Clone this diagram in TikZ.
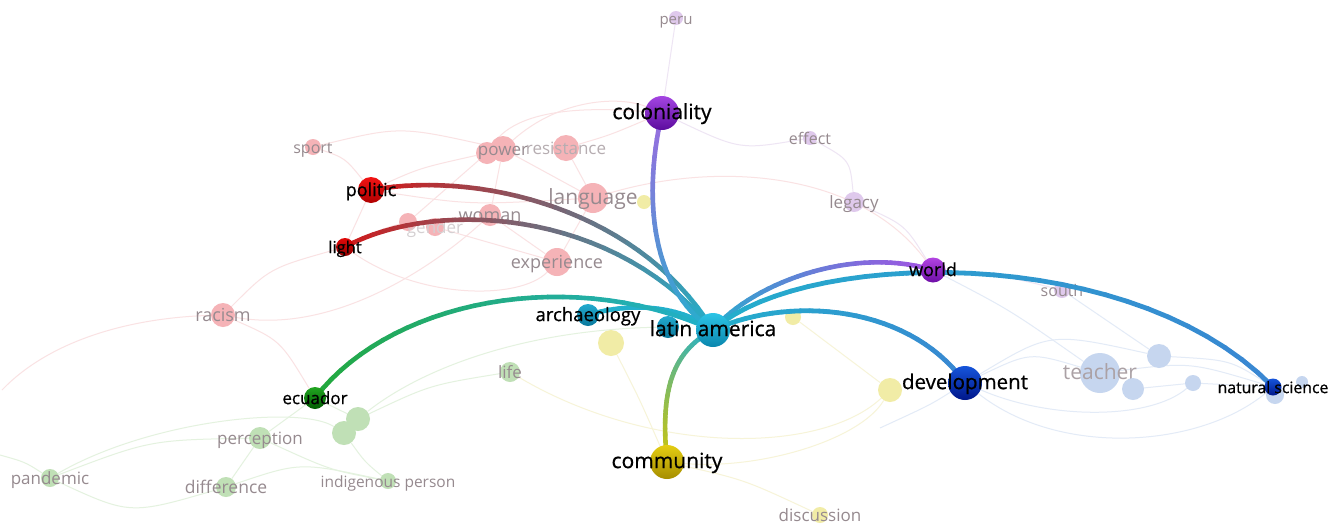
\documentclass[tikz,border=0pt]{standalone}
\usepackage{fontspec}
\setmainfont{Open Sans}
\newfontfamily\heavyfont{Open Sans}[FakeBold=0.7]
\pgfdeclarelayer{faint}
\pgfdeclarelayer{strongedge}
\pgfdeclarelayer{top}
\pgfsetlayers{faint,main,strongedge,top}
% faded node fills
\definecolor{pk}{HTML}{F5B3B7}
\definecolor{yl}{HTML}{F1ECA6}
\definecolor{gr}{HTML}{C0E0B6}
\definecolor{bl}{HTML}{C6D6EF}
\definecolor{pu}{HTML}{DFC9EC}
\definecolor{fadetxt}{HTML}{968A8F}
% faint edge colours
\definecolor{fpkc}{HTML}{FAE2E3}
\definecolor{fgrc}{HTML}{E4F2DF}
\definecolor{fblc}{HTML}{E3EBF7}
\definecolor{fylc}{HTML}{F7F4D8}
\definecolor{fpuc}{HTML}{EEE5F4}
% strong node colours
\definecolor{laTop}{HTML}{2CC4E6}\definecolor{laBot}{HTML}{0A86AD}
\definecolor{colTop}{HTML}{A445E2}\definecolor{colBot}{HTML}{5C0C9E}
\definecolor{comTop}{HTML}{E4CD12}\definecolor{comBot}{HTML}{A68E00}
\definecolor{devTop}{HTML}{1655DA}\definecolor{devBot}{HTML}{00168A}
\definecolor{wTop}{HTML}{B244E2}\definecolor{wBot}{HTML}{6E0EA6}
\definecolor{polTop}{HTML}{F21414}\definecolor{polBot}{HTML}{B00000}
\definecolor{liTop}{HTML}{E00808}\definecolor{liBot}{HTML}{8E0000}
\definecolor{ecTop}{HTML}{22A522}\definecolor{ecBot}{HTML}{005C00}
\definecolor{arTop}{HTML}{22AACE}\definecolor{arBot}{HTML}{0A789C}
% strong edge colours
\definecolor{eTeal}{HTML}{22B0CC}
\definecolor{eRed}{HTML}{D41616}
\definecolor{eGreen}{HTML}{22A838}
\definecolor{eYellow}{HTML}{CCC40C}
\definecolor{ePurple}{HTML}{9C6CE0}
\definecolor{eWorld}{HTML}{A452E2}
\definecolor{eBlue}{HTML}{3A86D2}

\newcommand\gradedge[7]{%
  \foreach \k [evaluate=\k as \tpos using \k/30] in {0,...,30}{%
    \path (#1.center) .. controls #2 and #3 .. (#4.center) coordinate[pos=\tpos] (gp\k);}%
  \foreach \k [evaluate=\k as \kn using int(\k+1), evaluate=\k as \mx using int(round(100-100*(\k+0.5)/30))] in {0,...,29}{%
    \draw[line width=#7, line cap=round, color=#5!\mx!#6] (gp\k) -- (gp\kn);}%
}

\begin{document}
\begin{tikzpicture}[x=1pt,y=-1pt,
  bub/.style={circle,inner sep=0pt,minimum size=#1},
  fb/.style={fill=#1},
  sb/.style 2 args={top color=#1,bottom color=#2},
  flab/.style={inner sep=0pt,yshift=-4pt,text=fadetxt,font=\fontsize{#1}{#1}\selectfont,text height=0.72em,text depth=0.2em},
  slab/.style={inner sep=0pt,yshift=-3.5pt,text=black,font=\heavyfont\fontsize{#1}{#1}\selectfont,text height=0.72em,text depth=0.2em},
  fpk/.style={draw=fpkc,line width=1pt},
  fgr/.style={draw=fgrc,line width=1pt},
  fbl/.style={draw=fblc,line width=1pt},
  fyl/.style={draw=fylc,line width=1pt},
  fpu/.style={draw=fpuc,line width=1pt},
]
\useasboundingbox (0,0) rectangle (1331,528);

% ---------- faded nodes (main layer) ----------
% red cluster
\node[bub=16pt,fb=pk,label={[flab=16]center:sport}] (sport) at (313,147) {};
\node[bub=22pt,fb=pk] (pw2) at (487,153) {};
\node[bub=26pt,fb=pk,label={[flab=17]center:power}] (power) at (503,149) {};
\node[bub=26pt,fb=pk,label={[flab=17,text=fadetxt!70]center:resistance}] (resistance) at (566,148) {};
\node[bub=30pt,fb=pk,label={[flab=21]center:language}] (language) at (593,198) {};
\node[bub=22pt,fb=pk,label={[flab=18]center:woman}] (woman) at (490,215) {};
\node[bub=18pt,fb=pk] (g2) at (408,222) {};
\node[bub=18pt,fb=pk,label={[flab=17,text=fadetxt!40]center:gender}] (gender) at (435,227) {};
\node[bub=28pt,fb=pk,label={[flab=18]center:experience}] (experience) at (557,262) {};
\node[bub=24pt,fb=pk,label={[flab=18]center:racism}] (racism) at (223,315) {};
% yellow cluster
\node[bub=14pt,fb=yl] (y1) at (644,202) {};
\node[bub=26pt,fb=yl] (y2) at (611,343) {};
\node[bub=16pt,fb=yl] (y3) at (793,317) {};
\node[bub=24pt,fb=yl] (y4) at (890,390) {};
\node[bub=16pt,fb=yl,label={[flab=17]center:discussion}] (discussion) at (820,515) {};
% green cluster
\node[bub=20pt,fb=gr,label={[flab=17]center:life}] (life) at (510,372) {};
\node[bub=22pt,fb=gr,label={[flab=17]center:perception}] (perception) at (260,438) {};
\node[bub=24pt,fb=gr] (gc1) at (358,419) {};
\node[bub=24pt,fb=gr] (gc2) at (344,433) {};
\node[bub=18pt,fb=gr,label={[flab=17]center:pandemic}] (pandemic) at (50,478) {};
\node[bub=20pt,fb=gr,label={[flab=17.5]center:difference}] (difference) at (226,487) {};
\node[bub=16pt,fb=gr,label={[flab=15.5]center:indigenous person}] (indig) at (388,481) {};
% blue cluster
\node[bub=40pt,fb=bl,label={[flab=21,text=fadetxt!80]center:teacher}] (teacher) at (1100,373) {};
\node[bub=24pt,fb=bl] (b1) at (1159,356) {};
\node[bub=22pt,fb=bl] (b2) at (1133,389) {};
\node[bub=16pt,fb=bl] (b3) at (1193,383) {};
\node[bub=12pt,fb=bl] (b4) at (1302,382) {};
\node[bub=18pt,fb=bl] (b5) at (1275,395) {};
% purple cluster
\node[bub=14pt,fb=pu,label={[flab=15]center:peru}] (peru) at (676,18) {};
\node[bub=14pt,fb=pu,label={[flab=16]center:effect}] (effect) at (810,138) {};
\node[bub=20pt,fb=pu,label={[flab=17]center:legacy}] (legacy) at (854,202) {};
\node[bub=16pt,fb=pu,label={[flab=16]center:south}] (south) at (1062,290) {};

% ---------- strong nodes (top layer) ----------
\begin{pgfonlayer}{top}
\node[bub=22pt,sb={arTop}{arBot}] (sc) at (668,327) {};
\node[bub=22pt,sb={arTop}{arBot},label={[slab=18.5]center:archaeology}] (archaeology) at (588,315) {};
\node[bub=34pt,sb={laTop}{laBot},label={[slab=21]center:latin america}] (la) at (713,330) {};
\node[bub=34pt,sb={colTop}{colBot},label={[slab=21]center:coloniality}] (coloniality) at (662,113) {};
\node[bub=34pt,sb={comTop}{comBot},label={[slab=21]center:community}] (community) at (667,462) {};
\node[bub=34pt,sb={devTop}{devBot},label={[slab=20.5]center:development}] (development) at (965,383) {};
\node[bub=25pt,sb={wTop}{wBot},label={[slab=18]center:world}] (world) at (933,270) {};
\node[bub=26pt,sb={polTop}{polBot},label={[slab=18]center:politic}] (politic) at (371,190) {};
\node[bub=18pt,sb={liTop}{liBot},label={[slab=16.5]center:light}] (light) at (345,247) {};
\node[bub=22pt,sb={ecTop}{ecBot},label={[slab=17]center:ecuador}] (ecuador) at (315,398) {};
\node[bub=17pt,sb={devTop}{devBot},label={[slab=15.8]center:natural science}] (natsci) at (1273,387) {};
\end{pgfonlayer}

% ---------- faint connectors ----------
\begin{pgfonlayer}{faint}
\fill[white] (0,0) rectangle (1331,528);
\coordinate (le1) at (2,390);
\coordinate (le2) at (0,455);
\coordinate (be1) at (880,428);
% red
\draw[fpk] (sport) .. controls (345,158) .. (politic);
\draw[fpk] (sport) .. controls (400,126) .. (power);
\draw[fpk] (politic) .. controls (420,168) .. (pw2);
\draw[fpk] (power) .. controls (560,98) and (620,96) .. (coloniality);
\draw[fpk] (pw2) .. controls (520,105) and (600,108) .. (coloniality);
\draw[fpk] (politic) .. controls (470,205) .. (language);
\draw[fpk] (light) -- (politic);
\draw[fpk] (light) .. controls (385,228) .. (g2);
\draw[fpk] (racism) .. controls (270,268) .. (light);
\draw[fpk] (racism) .. controls (120,318) and (45,345) .. (le1);
\draw[fpk] (racism) .. controls (330,335) and (430,270) .. (woman);
\draw[fpk] (racism) .. controls (280,340) .. (ecuador);
\draw[fpk] (woman) -- (power);
\draw[fpk] (woman) -- (experience);
\draw[fpk] (language) -- (experience);
\draw[fpk] (resistance) -- (language);
\draw[fpk] (power) -- (language);
\draw[fpk] (gender) -- (experience);
\draw[fpk] (pw2) -- (g2);
\draw[fpk] (resistance) .. controls (610,135) .. (coloniality);
\draw[fpk] (light) .. controls (420,300) and (520,300) .. (experience);
% green
\draw[fgr] (ecuador) -- (perception);
\draw[fgr] (ecuador) -- (gc1);
\draw[fgr] (gc1) -- (gc2);
\draw[fgr] (perception) .. controls (150,440) .. (pandemic);
\draw[fgr] (pandemic) .. controls (130,515) .. (difference);
\draw[fgr] (difference) .. controls (300,462) .. (indig);
\draw[fgr] (perception) -- (difference);
\draw[fgr] (gc2) .. controls (365,462) .. (indig);
\draw[fgr] (gc1) .. controls (430,385) .. (life);
\draw[fgr] (le2) .. controls (25,462) .. (pandemic);
\draw[fgr] (gc1) .. controls (420,370) and (520,330) .. (sc);
\draw[fgr] (perception) .. controls (330,470) .. (indig);
\draw[fgr] (pandemic) .. controls (150,420) and (300,405) .. (gc2);
% blue
\draw[fbl] (development) .. controls (1030,352) .. (teacher);
\draw[fbl] (teacher) .. controls (1190,362) .. (natsci);
\draw[fbl] (development) .. controls (1060,458) and (1200,448) .. (natsci);
\draw[fbl] (development) .. controls (1050,332) .. (b1);
\draw[fbl] (world) .. controls (1010,310) .. (teacher);
\draw[fbl] (south) -- (b1);
\draw[fbl] (b1) .. controls (1230,360) .. (natsci);
\draw[fbl] (b2) -- (b3);
\draw[fbl] (b3) -- (natsci);
\draw[fbl] (development) .. controls (930,405) .. (be1);
\draw[fbl] (development) .. controls (1050,420) and (1150,420) .. (b3);
% yellow
\draw[fyl] (community) .. controls (745,480) .. (discussion);
\draw[fyl] (y2) .. controls (640,400) .. (community);
\draw[fyl] (y3) -- (y4);
\draw[fyl] (community) .. controls (760,470) and (860,440) .. (y4);
\draw[fyl] (life) .. controls (650,455) and (820,455) .. (y4);
% purple
\draw[fpu] (coloniality) -- (peru);
\draw[fpu] (coloniality) .. controls (740,150) .. (effect);
\draw[fpu] (effect) .. controls (850,160) .. (legacy);
\draw[fpu] (legacy) .. controls (905,225) .. (world);
\draw[fpu] (world) .. controls (1000,275) .. (south);
\draw[fpk] (language) .. controls (720,160) and (860,172) .. (world);
\end{pgfonlayer}

% ---------- strong connectors ----------
\begin{pgfonlayer}{strongedge}
\gradedge{archaeology}{(630,302)}{(680,305)}{la}{eTeal}{eTeal}{4.6pt}
\gradedge{ecuador}{(390,300)}{(570,265)}{la}{eGreen}{eTeal}{4.6pt}
\gradedge{politic}{(480,170)}{(640,210)}{la}{eRed}{eTeal}{4.6pt}
\gradedge{light}{(430,200)}{(610,205)}{la}{eRed}{eTeal}{4.6pt}
\gradedge{coloniality}{(642,200)}{(652,290)}{la}{ePurple}{eTeal}{4.6pt}
\gradedge{community}{(660,390)}{(672,352)}{la}{eYellow}{eTeal}{4.6pt}
\gradedge{la}{(750,285)}{(850,245)}{world}{eTeal}{eWorld}{4.6pt}
\gradedge{la}{(800,250)}{(1130,240)}{natsci}{eTeal}{eBlue}{4.8pt}
\gradedge{la}{(790,295)}{(910,305)}{development}{eTeal}{eBlue}{4.8pt}
\end{pgfonlayer}
\end{tikzpicture}
\end{document}
